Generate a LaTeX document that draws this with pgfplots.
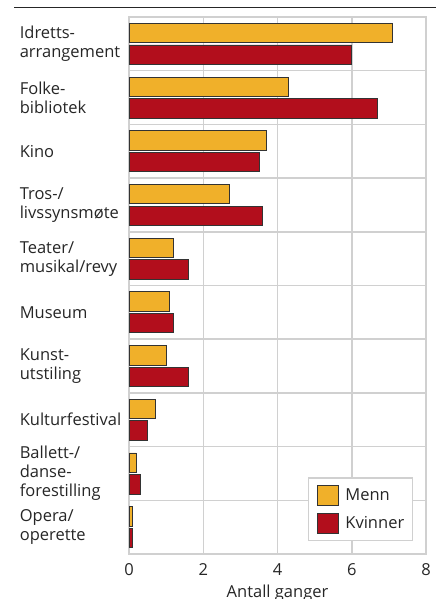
\documentclass[border=0pt]{standalone}
\usepackage{pgfplots}
\pgfplotsset{compat=1.18}
\usepackage{fontspec}
\setmainfont{Open Sans}
\definecolor{menn}{RGB}{240,176,42}
\definecolor{kvinner}{RGB}{178,14,28}
\definecolor{gridc}{RGB}{208,208,208}
\begin{document}
\begin{tikzpicture}
\path[use as bounding box] (0,0) rectangle (436pt,599pt);
\clip (0,0) rectangle (436pt,599pt);
\draw[line width=1.3pt, black!85] (14pt,591.7pt) -- (436pt,591.7pt);
\begin{axis}[
  at={(129pt,45pt)}, anchor=south west,
  scale only axis, width=297pt, height=537pt,
  xbar, bar width=19.4pt,
  xmin=0, xmax=8, ymin=-0.5, ymax=9.5,
  xtick={0,2,4,6,8},
  ytick={0,1,2,3,4,5,6,7,8,9},
  yticklabels={{Opera/\\operette},{Ballett-/\\danse-\\forestilling},{Kulturfestival},{Kunst-\\utstiling},{Museum},{Teater/\\musikal/revy},{Tros-/\\livssynsmøte},{Kino},{Folke-\\bibliotek},{Idretts-\\arrangement}},
  minor ytick={-0.5,0.5,1.5,2.5,3.5,4.5,5.5,6.5,7.5,8.5,9.5},
  xmajorgrids, yminorgrids,
  grid style={gridc, line width=1.5pt},
  minor grid style={gridc, line width=1.5pt},
  axis line style={gridc, line width=1.5pt},
  major tick length=0pt, minor tick length=0pt,
  tick style={draw=none},
  /pgf/number format/assume math mode=true,
  ticklabel style={font=\fontsize{16.5}{19}\selectfont, text=black!85},
  yticklabel style={text width=106pt, align=left, inner sep=0pt, anchor=east, xshift=-3pt},
  xticklabel style={yshift=-6pt},
  xlabel={Antall ganger},
  xlabel style={font=\fontsize{16.5}{19}\selectfont, text=black!85, yshift=-2pt},
  legend style={at={(rel axis cs:0.956,0.024)}, anchor=south east,
    draw=gridc, line width=1.4pt, fill=white, font=\fontsize{16.5}{19}\selectfont, text=black!85,
    row sep=7pt, column sep=0pt, inner xsep=8pt, inner ysep=7pt, cells={anchor=west},
    nodes={inner sep=0pt}},
  legend image code/.code={\draw[#1, line width=0.8pt] (0pt,-10pt) rectangle (21pt,10pt);},
  legend cell align=left,
]
\addplot[fill=menn, draw=black!80, line width=0.8pt, bar shift=10.8pt] coordinates {
(7.1,9) (4.3,8) (3.7,7) (2.7,6) (1.2,5) (1.1,4) (1.0,3) (0.7,2) (0.2,1) (0.1,0)};
\addplot[fill=kvinner, draw=black!80, line width=0.8pt, bar shift=-10.8pt] coordinates {
(6.0,9) (6.7,8) (3.5,7) (3.6,6) (1.6,5) (1.2,4) (1.6,3) (0.5,2) (0.3,1) (0.1,0)};
\legend{\hspace{7pt}Menn,\hspace{7pt}Kvinner}
\end{axis}
\end{tikzpicture}
\end{document}
